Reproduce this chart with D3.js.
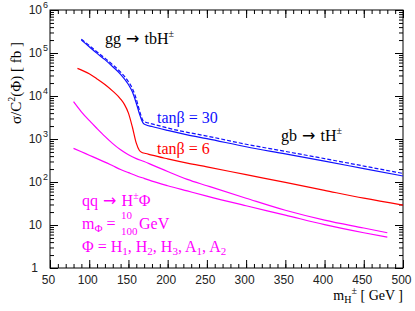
<!DOCTYPE html>
<html>
<head>
<meta charset="utf-8">
<script src="https://cdn.jsdelivr.net/npm/d3@7"></script>
<style>
  body { margin: 0; background: #fff; }
  svg { display: block; }
  .serif { font-family: "Liberation Serif", "Times New Roman", serif; }
  .arrow { font-family: "DejaVu Sans", sans-serif; }
  .tick text { font-family: "Liberation Sans", Arial, sans-serif; font-size: 12px; fill: #222; }
  .tick line { stroke: #000; }
</style>
</head>
<body>
<svg id="chart" width="415" height="311"></svg>
<script>
// tanb = 30 (solid and dashed), gg -> tbH+- below threshold, gb -> tH+- above
const massTan30 = [90,100,110,120,130,140,150,155,160,165,169,172,180,200,225,250,300,350,400,450,500];
const sigmaTan30 = [200000,140000,98000,70000,48000,32000,18500,12500,6800,3400,2300,2150,1950,1580,1250,1020,660,450,305,205,138];
const sigmaTan30Dashed = [210000,150000,106000,76000,53000,36000,21500,15000,8500,4000,2600,2450,2250,1800,1430,1170,755,515,350,235,158];

// tanb = 6
const massTan6 = [85,100,110,120,130,140,145,150,155,160,164,168,172,180,200,225,250,300,350,400,450,500];
const sigmaTan6 = [44000,33000,25000,18500,13000,8500,6300,4000,1900,800,540,480,460,420,345,275,225,148,98,64,42,29];

// qq -> H+- Phi
const massPhi = [80,90,100,110,120,130,140,150,160,170,180,200,225,250,300,350,400,450,480];
const sigmaPhiUpper = [7400,4300,2700,1750,1150,780,560,430,350,300,250,175,115,82,42,22,13,8.5,6.6];
const sigmaPhiLower = [605,505,420,350,290,238,195,165,140,121,105,82,62,47,28,17,10.2,6.6,5.2];

const xTicks = [50,100,150,200,250,300,350,400,450,500];
const yExponents = [0,1,2,3,4,5,6];

const svg = d3.select("#chart");
const pLeft = 50, pRight = 403, pTop = 10, pBottom = 268;

const x = d3.scaleLinear().domain([50, 500]).range([pLeft, pRight]);
const y = d3.scaleLog().domain([1, 1e6]).range([pBottom, pTop]);

const minorX = d3.range(50, 501, 10);
const minorY = [];
for (let e = 0; e < 6; e++) for (let k = 2; k <= 9; k++) minorY.push(k * Math.pow(10, e));
const majorY = yExponents.map(e => Math.pow(10, e));

const noDomain = g => g.select(".domain").remove();

// bottom
svg.append("g").attr("transform", `translate(0,${pBottom})`)
  .call(d3.axisBottom(x).tickValues(minorX).tickSize(-4).tickSizeOuter(0).tickFormat(""))
  .call(noDomain);
const xAxis = svg.append("g").attr("transform", `translate(0,${pBottom})`)
  .call(d3.axisBottom(x).tickValues(xTicks).tickSize(-8).tickSizeOuter(0).tickPadding(7).tickFormat(d3.format("d")))
  .call(noDomain);
xAxis.selectAll("text").attr("dx", -2);
// top
svg.append("g").attr("transform", `translate(0,${pTop})`)
  .call(d3.axisTop(x).tickValues(minorX).tickSize(-4).tickSizeOuter(0).tickFormat(""))
  .call(noDomain);
svg.append("g").attr("transform", `translate(0,${pTop})`)
  .call(d3.axisTop(x).tickValues(xTicks).tickSize(-8).tickSizeOuter(0).tickFormat(""))
  .call(noDomain);
// left
svg.append("g").attr("transform", `translate(${pLeft},0)`)
  .call(d3.axisLeft(y).tickValues(minorY).tickSize(-4).tickSizeOuter(0).tickFormat(""))
  .call(noDomain);
svg.append("g").attr("transform", `translate(${pLeft},0)`)
  .call(d3.axisLeft(y).tickValues(majorY).tickSize(-8).tickSizeOuter(0).tickFormat(""))
  .call(noDomain);
// right
svg.append("g").attr("transform", `translate(${pRight},0)`)
  .call(d3.axisRight(y).tickValues(minorY).tickSize(-4).tickSizeOuter(0).tickFormat(""))
  .call(noDomain);
svg.append("g").attr("transform", `translate(${pRight},0)`)
  .call(d3.axisRight(y).tickValues(majorY).tickSize(-8).tickSizeOuter(0).tickFormat(""))
  .call(noDomain);

svg.append("rect").attr("x", pLeft).attr("y", pTop)
  .attr("width", pRight - pLeft).attr("height", pBottom - pTop)
  .attr("fill", "none").attr("stroke", "#000").attr("stroke-width", 1);

// y tick labels 1, 10, 10^2 ...
yExponents.forEach(e => {
  const t = svg.append("text")
    .attr("font-family", "'Liberation Sans', Arial, sans-serif")
    .attr("font-size", 12).attr("fill", "#222")
    .attr("y", y(Math.pow(10, e)) + 4);
  if (e === 0) {
    t.attr("x", 38).attr("text-anchor", "end").text("1");
  } else if (e === 1) {
    t.attr("x", 42).attr("text-anchor", "end").text("10");
  } else {
    t.attr("x", 42).attr("text-anchor", "end").text("10");
    svg.append("text")
      .attr("font-family", "'Liberation Sans', Arial, sans-serif")
      .attr("font-size", 9).attr("fill", "#222")
      .attr("x", 43).attr("y", y(Math.pow(10, e)) - 2).text(e);
  }
});

// curves
const line = d3.line().x(d => x(d[0])).y(d => y(d[1])).curve(d3.curveMonotoneX);
const curve = (ms, vs, color, dash) => svg.append("path")
  .datum(d3.zip(ms, vs))
  .attr("d", line)
  .attr("fill", "none")
  .attr("stroke", color)
  .attr("stroke-width", 1.2)
  .attr("stroke-dasharray", dash || null);

curve(massPhi, sigmaPhiUpper, "#ff00ff");
curve(massPhi, sigmaPhiLower, "#ff00ff");
curve(massTan6, sigmaTan6, "#ff0000");
curve(massTan30, sigmaTan30Dashed, "#1010ff", "4,2");
curve(massTan30, sigmaTan30, "#1010ff");

// labels
const label = (xp, yp, color, size) => svg.append("text").attr("class", "serif")
  .attr("x", xp).attr("y", yp).attr("fill", color).attr("font-size", size || 16);
const arrow = t => t.append("tspan").attr("class", "arrow").attr("font-size", 16).text(" \u2192 ");

const gg = label(105, 44, "#000");
gg.append("tspan").text("gg");
arrow(gg);
gg.append("tspan").text("tbH");
gg.append("tspan").attr("font-size", 10).attr("dy", -7).text("\u00b1");

label(157, 123, "#1010ff").text("tan\u03b2 = 30");
label(157, 154, "#ff0000").text("tan\u03b2 = 6");

const gb = label(281, 141, "#000");
gb.append("tspan").text("gb");
arrow(gb);
gb.append("tspan").text("tH");
gb.append("tspan").attr("font-size", 10).attr("dy", -7).text("\u00b1");

// magenta block
const q1 = label(82, 206, "#ff00ff");
q1.append("tspan").text("qq");
arrow(q1);
q1.append("tspan").text("H");
q1.append("tspan").attr("font-size", 10).attr("dy", -7).text("\u00b1");
q1.append("tspan").attr("dy", 7).text("\u03a6");
label(121, 219, "#ff00ff", 11).text("10");

const q2 = label(82, 229, "#ff00ff");
q2.append("tspan").text("m");
q2.append("tspan").attr("font-size", 11).attr("dy", 3).text("\u03a6");
q2.append("tspan").attr("dy", -3).text(" =");
label(121, 235, "#ff00ff", 11).text("100");
label(139, 229, "#ff00ff").text("GeV");

const q3 = label(82, 252, "#ff00ff");
q3.append("tspan").text("\u03a6 = H");
q3.append("tspan").attr("font-size", 11).attr("dy", 3).text("1");
q3.append("tspan").attr("dy", -3).text(", H");
q3.append("tspan").attr("font-size", 11).attr("dy", 3).text("2");
q3.append("tspan").attr("dy", -3).text(", H");
q3.append("tspan").attr("font-size", 11).attr("dy", 3).text("3");
q3.append("tspan").attr("dy", -3).text(", A");
q3.append("tspan").attr("font-size", 11).attr("dy", 3).text("1");
q3.append("tspan").attr("dy", -3).text(", A");
q3.append("tspan").attr("font-size", 11).attr("dy", 3).text("2");

// axis titles
const yt = svg.append("text").attr("class", "serif").attr("font-size", 15)
  .attr("text-anchor", "middle").attr("transform", "translate(21,83) rotate(-90)");
yt.append("tspan").text("\u03c3/C");
yt.append("tspan").attr("font-size", 10).attr("dy", -6).text("2");
yt.append("tspan").attr("dy", 6).text("(\u03a6) [ fb ]");

const xt = svg.append("text").attr("class", "serif").attr("font-size", 14)
  .attr("text-anchor", "end").attr("x", 403).attr("y", 300);
xt.append("tspan").text("m");
xt.append("tspan").attr("font-size", 10).attr("dy", 3).text("H");
xt.append("tspan").attr("font-size", 10).attr("dy", -9).text("\u00b1");
xt.append("tspan").attr("dy", 6).text(" [ GeV ]");
</script>
</body>
</html>
